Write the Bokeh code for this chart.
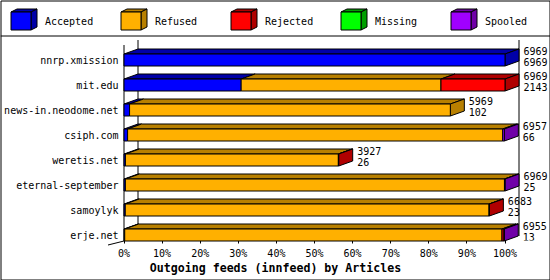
import numpy as np
from bokeh.plotting import figure
from bokeh.models import Range1d, LinearAxis, FixedTicker, PrintfTickFormatter, ColumnDataSource
from bokeh.embed import file_html
from bokeh.resources import INLINE
from bokeh.core.properties import value

# ---------------- data ----------------
hosts = ["nnrp.xmission", "mit.edu", "news-in.neodome.net", "csiph.com",
         "weretis.net", "eternal-september", "samoylyk", "erje.net"]
accepted = [6969, 2143, 102, 66, 26, 25, 23, 13]
refused = [0, 3655, 5867, 6861, 3895, 6934, 6655, 6901]
rejected = [0, 1171, 0, 0, 6, 0, 5, 38]
missing = [0, 0, 0, 0, 0, 0, 0, 0]
spooled = [0, 0, 0, 30, 0, 10, 0, 3]
offered_labels = [6969, 6969, 5969, 6957, 3927, 6969, 6683, 6955]
accepted_labels = [6969, 2143, 102, 66, 26, 25, 23, 13]
series_names = ["Accepted", "Refused", "Rejected", "Missing", "Spooled"]
tick_values = [0, 10, 20, 30, 40, 50, 60, 70, 80, 90, 100]
axis_title = "Outgoing feeds (innfeed) by Articles"

# ---------------- style ----------------
front_colors = ["#0000FF", "#FFB000", "#FF0000", "#00FF00", "#A000FF"]
dark_colors = ["#0000A8", "#B88000", "#B00000", "#00A000", "#7000A8"]
FONT = "DejaVu Sans Mono"

W, H = 550, 280
FRAME_H = 240
PX0, PX100 = 123.5, 504.5
SX = (PX100 - PX0) / 100.0
ROW0, ROWSTEP = 59.5, 25.0

def px2x(px):
    return (px - PX0) / SX

def py2y(py):
    return (py - ROW0) / ROWSTEP

DX = 14 / SX
DY = 5 / ROWSTEP
HH = 6 / ROWSTEP

p = figure(width=W, height=H, output_backend="svg", toolbar_location=None,
           x_axis_type=None, y_axis_type=None,
           x_range=Range1d(px2x(0), px2x(W)),
           y_range=Range1d(py2y(FRAME_H), py2y(0)),
           min_border_left=0, min_border_right=0, min_border_top=0,
           min_border_bottom=H - FRAME_H)
p.outline_line_color = None
p.grid.visible = False
p.background_fill_color = "white"
p.border_fill_color = "white"

series = [accepted, refused, rejected, missing, spooled]
total_max = max(sum(s[i] for s in series) for i in range(len(hosts)))
scale = 100.0 / total_max

# outer border (drawn unclipped so it also runs round the axis area)
bx0, bx1, by0, by1 = px2x(0.5), px2x(549.5), py2y(0.5), py2y(279.5)
p.segment(x0=[bx0, bx0, bx1, bx0], y0=[by0, by1, by0, by0],
          x1=[bx1, bx1, bx1, bx0], y1=[by0, by1, by1, by1],
          line_color="black", line_width=1, level="overlay")

# legend separator
p.segment(x0=[px2x(0)], y0=[py2y(35.5)], x1=[px2x(W)], y1=[py2y(35.5)],
          line_color="black", line_width=1)

# back wall and axis lines
p.segment(x0=[DX, 100 + DX, 0, px2x(107.5)],
          y0=[py2y(39.5), py2y(39.5), py2y(44.5), py2y(244.5)],
          x1=[DX, 100 + DX, 0, 0],
          y1=[py2y(235.5), py2y(235.5), py2y(240.5), py2y(240.5)],
          line_color="black", line_width=1, level="overlay")

# bars
tops_x, tops_y, tops_c = [], [], []
sides_x, sides_y, sides_c = [], [], []
fr = dict(left=[], right=[], top=[], bottom=[], color=[])
for i in range(len(hosts)):
    cum = 0.0
    last = None
    for k, s in enumerate(series):
        v = s[i]
        if v <= 0:
            continue
        x0 = cum * scale
        cum += v
        x1 = cum * scale
        yt = i - HH
        tops_x.append([x0, x0 + DX, x1 + DX, x1])
        tops_y.append([yt, yt - DY, yt - DY, yt])
        tops_c.append(dark_colors[k])
        fr["left"].append(x0); fr["right"].append(x1)
        fr["top"].append(i - HH); fr["bottom"].append(i + HH)
        fr["color"].append(front_colors[k])
        last = k
    xe = cum * scale
    sides_x.append([xe, xe + DX, xe + DX, xe])
    sides_y.append([i - HH, i - HH - DY, i + HH - DY, i + HH])
    sides_c.append(dark_colors[last])

p.patches(xs=tops_x, ys=tops_y, fill_color=tops_c, line_color="black", line_width=1,
          level="overlay")
p.patches(xs=sides_x, ys=sides_y, fill_color=sides_c, line_color="black", line_width=1,
          level="overlay")
p.quad(source=ColumnDataSource(fr), left="left", right="right", top="top", bottom="bottom",
       fill_color="color", line_color="black", line_width=1, level="overlay")

# category labels
p.text(x=[px2x(118)] * len(hosts), y=list(range(len(hosts))), text=hosts,
       text_align="right", text_baseline="middle", text_font=value(FONT),
       text_font_size="10px", text_color="black")

# value labels
totals = [sum(s[i] for s in series) * scale for i in range(len(hosts))]
lx = [t + DX + px2x(PX0 + 4.5) for t in totals]
p.text(x=lx, y=[i - 9 / ROWSTEP for i in range(len(hosts))],
       text=[str(v) for v in offered_labels], text_align="left", text_baseline="middle",
       text_font=value(FONT), text_font_size="10px", text_color="black")
p.text(x=lx, y=[i + 2 / ROWSTEP for i in range(len(hosts))],
       text=[str(v) for v in accepted_labels], text_align="left", text_baseline="middle",
       text_font=value(FONT), text_font_size="10px", text_color="black")

# legend (3D cubes)
LDX, LDY = 6, 3
for k, name in enumerate(series_names):
    lx0 = 10.5 + 110 * k
    lt, lb = 11.5, 29.5
    lr = lx0 + 20
    p.patch(x=[px2x(lx0), px2x(lx0 + LDX), px2x(lr + LDX), px2x(lr)],
            y=[py2y(lt), py2y(lt - LDY), py2y(lt - LDY), py2y(lt)],
            fill_color=dark_colors[k], line_color="black", line_width=1)
    p.patch(x=[px2x(lr), px2x(lr + LDX), px2x(lr + LDX), px2x(lr)],
            y=[py2y(lt), py2y(lt - LDY), py2y(lb - LDY), py2y(lb)],
            fill_color=dark_colors[k], line_color="black", line_width=1)
    p.quad(left=[px2x(lx0)], right=[px2x(lr)], top=[py2y(lt)], bottom=[py2y(lb)],
           fill_color=front_colors[k], line_color="black", line_width=1)
    p.text(x=[px2x(lx0 + 34)], y=[py2y(20.5)], text=[name], text_align="left",
           text_baseline="middle", text_font=value(FONT), text_font_size="10px",
           text_color="black")

# x axis
xaxis = LinearAxis(ticker=FixedTicker(ticks=tick_values),
                   formatter=PrintfTickFormatter(format="%d%%"),
                   axis_label=axis_title)
xaxis.axis_line_color = None
xaxis.major_tick_in = 0
xaxis.major_tick_out = 3
xaxis.major_tick_line_color = "black"
xaxis.minor_tick_line_color = None
xaxis.major_label_standoff = 4
xaxis.major_label_text_font = FONT
xaxis.major_label_text_font_size = "10px"
xaxis.major_label_text_color = "black"
xaxis.axis_label_text_font = FONT
xaxis.axis_label_text_font_size = "11.6px"
xaxis.axis_label_text_font_style = "bold"
xaxis.axis_label_text_color = "black"
xaxis.axis_label_standoff = -1
p.add_layout(xaxis, "below")

open("out.html", "w").write(file_html(p, INLINE))
